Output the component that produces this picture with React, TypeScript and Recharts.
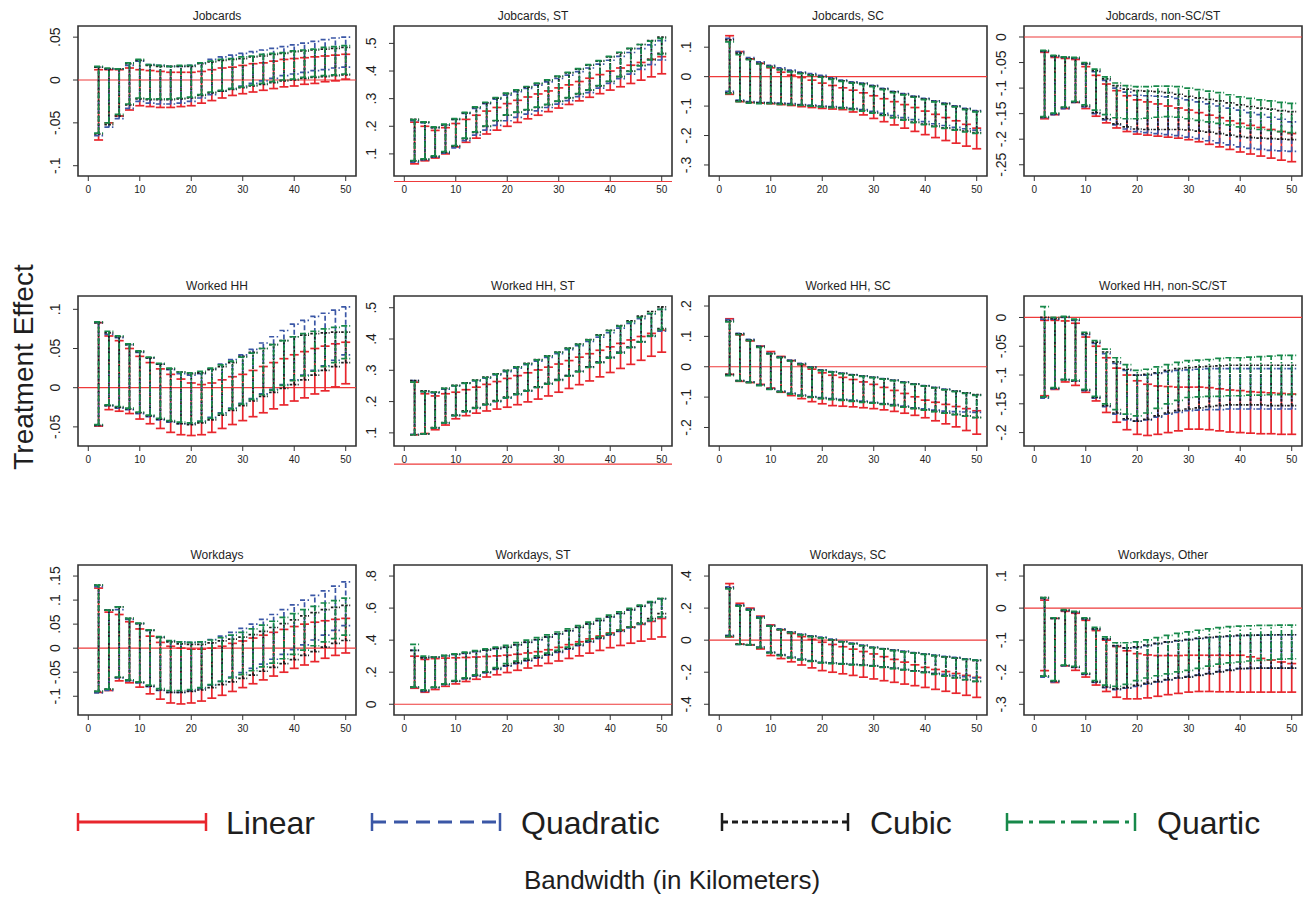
import React from 'react';
import { ComposedChart, Line, ErrorBar, XAxis, YAxis, ReferenceLine, ReferenceArea } from 'recharts';

// bandwidths (km) at which the RD estimates are shown
const bandwidths = [2, 4, 6, 8, 10, 12, 14, 16, 18, 20, 22, 24, 26, 28, 30, 32, 34, 36, 38, 40, 42, 44, 46, 48, 50];

// ---- Jobcards ----
const jcLinHi = [.012, .012, .012, .014, .012, .011, .010, .009, .009, .009, .010, .012, .014, .015, .017, .019, .020, .022, .024, .025, .026, .027, .028, .029, .030];
const jcLinLo = [-.070, -.050, -.042, -.035, -.030, -.031, -.032, -.032, -.031, -.030, -.027, -.024, -.021, -.018, -.016, -.014, -.012, -.010, -.008, -.007, -.005, -.004, -.002, -.001, .001];
const jcQuadHi = [.015, .013, .013, .017, .022, .018, .017, .016, .016, .017, .020, .024, .027, .029, .031, .033, .035, .037, .039, .041, .043, .045, .047, .049, .050];
const jcQuadLo = [-.065, -.055, -.045, -.033, -.025, -.027, -.028, -.028, -.027, -.025, -.021, -.017, -.013, -.010, -.007, -.004, -.001, .002, .005, .007, .009, .011, .012, .014, .015];
const jcCubHi = [.015, .013, .013, .019, .023, .017, .016, .016, .016, .016, .019, .021, .023, .024, .025, .027, .028, .030, .031, .033, .034, .035, .036, .037, .038];
const jcCubLo = [-.063, -.052, -.042, -.029, -.022, -.023, -.023, -.023, -.022, -.021, -.018, -.015, -.013, -.011, -.009, -.007, -.005, -.003, -.001, .000, .002, .003, .004, .005, .006];
const jcQuarHi = [.016, .014, .013, .020, .024, .018, .017, .016, .017, .017, .020, .022, .024, .025, .027, .028, .030, .031, .032, .034, .035, .036, .038, .039, .040];
const jcQuarLo = [-.062, -.050, -.040, -.028, -.021, -.022, -.022, -.022, -.021, -.020, -.017, -.014, -.012, -.010, -.008, -.006, -.004, -.002, .000, .001, .003, .004, .005, .006, .007];

// ---- Jobcards, ST ----
const jcStLinHi = [.215, .200, .185, .195, .210, .225, .240, .255, .268, .282, .294, .306, .317, .328, .339, .350, .362, .374, .387, .400, .411, .421, .431, .442, .452];
const jcStLinLo = [.064, .075, .085, .100, .125, .142, .157, .172, .186, .200, .214, .227, .240, .253, .266, .279, .292, .305, .318, .331, .343, .355, .367, .379, .390];
const jcStQuadHi = [.220, .212, .195, .205, .225, .247, .265, .282, .298, .313, .325, .337, .349, .361, .373, .385, .398, .411, .425, .439, .453, .467, .481, .495, .510];
const jcStQuadLo = [.070, .078, .088, .103, .122, .148, .168, .186, .203, .220, .232, .244, .256, .268, .280, .293, .307, .322, .338, .355, .372, .389, .406, .423, .440];
const jcStCubHi = [.225, .215, .195, .205, .225, .248, .268, .285, .302, .318, .330, .342, .354, .366, .380, .393, .407, .421, .436, .451, .466, .481, .496, .510, .523];
const jcStCubLo = [.075, .080, .090, .105, .128, .155, .178, .200, .220, .240, .250, .259, .268, .278, .290, .303, .317, .331, .346, .362, .380, .400, .421, .442, .464];
const jcStQuarHi = [.224, .216, .198, .208, .228, .250, .270, .287, .304, .320, .332, .344, .356, .368, .382, .395, .409, .423, .438, .453, .468, .482, .496, .508, .518];
const jcStQuarLo = [.076, .082, .093, .108, .130, .157, .180, .201, .221, .241, .251, .260, .269, .279, .291, .304, .318, .332, .347, .363, .380, .399, .419, .440, .460];

// ---- Jobcards, SC ----
const jcScLinHi = [.139, .085, .060, .045, .030, .015, .005, -.003, -.012, -.022, -.030, -.038, -.046, -.055, -.065, -.075, -.085, -.095, -.105, -.117, -.128, -.139, -.150, -.162, -.175];
const jcScLinLo = [-.060, -.085, -.088, -.090, -.092, -.095, -.098, -.102, -.105, -.108, -.110, -.112, -.120, -.130, -.142, -.153, -.164, -.175, -.186, -.197, -.207, -.217, -.226, -.236, -.245];
const jcScQuadHi = [.130, .085, .065, .050, .038, .030, .022, .015, .010, .004, -.004, -.012, -.018, -.022, -.030, -.040, -.050, -.058, -.066, -.074, -.082, -.090, -.099, -.108, -.115];
const jcScQuadLo = [-.050, -.080, -.085, -.087, -.088, -.090, -.092, -.095, -.097, -.100, -.102, -.104, -.108, -.112, -.118, -.125, -.132, -.139, -.146, -.153, -.160, -.166, -.172, -.177, -.182];
const jcScCubHi = [.125, .080, .060, .045, .035, .025, .018, .012, .006, .000, -.007, -.014, -.020, -.024, -.032, -.042, -.052, -.060, -.068, -.076, -.084, -.092, -.101, -.110, -.118];
const jcScCubLo = [-.055, -.082, -.087, -.089, -.090, -.092, -.094, -.097, -.099, -.102, -.104, -.106, -.110, -.115, -.122, -.130, -.138, -.146, -.154, -.161, -.168, -.174, -.180, -.185, -.190];
const jcScQuarHi = [.118, .075, .058, .043, .033, .023, .016, .010, .004, -.002, -.009, -.016, -.022, -.026, -.034, -.044, -.054, -.062, -.070, -.078, -.086, -.094, -.103, -.112, -.120];
const jcScQuarLo = [-.058, -.085, -.090, -.092, -.092, -.094, -.096, -.098, -.100, -.103, -.105, -.108, -.112, -.117, -.124, -.132, -.140, -.148, -.156, -.163, -.170, -.176, -.182, -.188, -.193];

// ---- Jobcards, non-SC/ST ----
const jcNonLinHi = [-.030, -.040, -.042, -.044, -.058, -.075, -.092, -.105, -.115, -.123, -.127, -.131, -.135, -.139, -.143, -.148, -.153, -.158, -.164, -.169, -.173, -.177, -.181, -.185, -.189];
const jcNonLinLo = [-.160, -.152, -.140, -.128, -.140, -.155, -.168, -.178, -.185, -.190, -.192, -.194, -.196, -.198, -.201, -.205, -.210, -.215, -.220, -.225, -.229, -.233, -.237, -.241, -.244];
const jcNonQuadHi = [-.028, -.038, -.040, -.042, -.053, -.068, -.085, -.100, -.108, -.114, -.115, -.116, -.117, -.120, -.123, -.127, -.131, -.135, -.139, -.143, -.148, -.152, -.157, -.161, -.166];
const jcNonQuadLo = [-.158, -.152, -.140, -.128, -.137, -.150, -.162, -.172, -.180, -.185, -.187, -.189, -.191, -.193, -.196, -.199, -.203, -.207, -.211, -.215, -.218, -.220, -.222, -.223, -.224];
const jcNonCubHi = [-.027, -.037, -.040, -.041, -.052, -.066, -.082, -.095, -.102, -.105, -.106, -.107, -.109, -.112, -.116, -.119, -.122, -.125, -.129, -.133, -.136, -.139, -.141, -.144, -.146];
const jcNonCubLo = [-.157, -.150, -.138, -.127, -.135, -.148, -.160, -.170, -.176, -.180, -.181, -.181, -.181, -.181, -.182, -.184, -.186, -.189, -.192, -.195, -.197, -.198, -.199, -.200, -.201];
const jcNonQuarHi = [-.026, -.036, -.039, -.040, -.050, -.063, -.078, -.090, -.095, -.097, -.097, -.096, -.096, -.097, -.100, -.103, -.106, -.109, -.113, -.117, -.120, -.123, -.125, -.128, -.130];
const jcNonQuarLo = [-.156, -.149, -.137, -.126, -.133, -.143, -.152, -.158, -.160, -.160, -.159, -.157, -.156, -.157, -.160, -.163, -.166, -.169, -.172, -.176, -.179, -.181, -.183, -.185, -.187];

// ---- Worked HH ----
const whLinHi = [.083, .066, .060, .050, .040, .032, .024, .017, .011, .006, .004, .006, .010, .014, .017, .022, .027, .032, .037, .042, .046, .050, .053, .056, .058];
const whLinLo = [-.049, -.028, -.030, -.033, -.040, -.046, -.052, -.057, -.060, -.061, -.060, -.057, -.052, -.047, -.042, -.037, -.032, -.027, -.022, -.017, -.013, -.008, -.004, .001, .005];
const whQuadHi = [.083, .068, .064, .055, .045, .038, .030, .023, .018, .016, .018, .024, .030, .036, .042, .049, .057, .065, .073, .081, .086, .091, .095, .099, .103];
const whQuadLo = [-.048, -.023, -.026, -.028, -.033, -.037, -.041, -.044, -.046, -.046, -.043, -.038, -.032, -.026, -.020, -.014, -.008, -.002, .004, .010, .016, .022, .028, .035, .042];
const whCubHi = [.083, .070, .065, .055, .046, .038, .030, .024, .020, .018, .019, .023, .027, .032, .040, .045, .050, .055, .060, .065, .067, .069, .070, .071, .071];
const whCubLo = [-.048, -.023, -.025, -.027, -.032, -.036, -.040, -.043, -.046, -.047, -.045, -.041, -.035, -.029, -.023, -.017, -.011, -.006, -.001, .004, .010, .016, .022, .027, .032];
const whQuarHi = [.084, .072, .066, .056, .047, .039, .031, .025, .020, .019, .021, .025, .029, .034, .039, .044, .050, .055, .060, .065, .069, .072, .075, .077, .079];
const whQuarLo = [-.047, -.022, -.024, -.026, -.031, -.035, -.039, -.042, -.044, -.045, -.043, -.039, -.033, -.027, -.021, -.015, -.009, -.003, .003, .009, .015, .021, .027, .032, .037];

// ---- Worked HH, ST ----
const whStLinHi = [.262, .225, .218, .225, .230, .238, .246, .255, .264, .274, .283, .292, .301, .310, .320, .331, .342, .353, .364, .375, .386, .397, .408, .418, .428];
const whStLinLo = [.094, .098, .110, .125, .145, .155, .163, .170, .176, .182, .190, .199, .208, .218, .230, .242, .254, .266, .279, .293, .306, .319, .332, .345, .358];
const whStQuadHi = [.267, .232, .228, .240, .250, .258, .266, .275, .285, .296, .307, .318, .329, .341, .353, .366, .379, .392, .406, .420, .435, .450, .465, .480, .495];
const whStQuadLo = [.095, .097, .115, .132, .155, .167, .178, .189, .200, .211, .222, .233, .245, .257, .270, .283, .297, .311, .326, .341, .357, .373, .390, .408, .425];
const whStCubHi = [.267, .234, .230, .242, .252, .260, .269, .278, .289, .300, .311, .322, .334, .346, .358, .371, .384, .398, .413, .428, .443, .458, .473, .488, .503];
const whStCubLo = [.094, .097, .117, .133, .157, .170, .181, .192, .203, .214, .225, .236, .247, .258, .270, .283, .297, .311, .326, .341, .357, .374, .392, .411, .433];
const whStQuarHi = [.262, .232, .230, .242, .251, .259, .268, .277, .288, .299, .310, .321, .333, .345, .357, .370, .383, .397, .412, .427, .441, .455, .469, .482, .495];
const whStQuarLo = [.094, .097, .116, .132, .155, .168, .179, .190, .201, .212, .223, .234, .245, .256, .268, .281, .295, .309, .324, .339, .355, .372, .390, .409, .430];

// ---- Worked HH, SC ----
const whScLinHi = [.158, .105, .085, .068, .050, .034, .020, .006, -.008, -.020, -.028, -.035, -.042, -.050, -.058, -.068, -.078, -.088, -.099, -.110, -.117, -.124, -.131, -.138, -.145];
const whScLinLo = [-.025, -.048, -.052, -.058, -.070, -.084, -.095, -.105, -.115, -.122, -.128, -.130, -.132, -.135, -.138, -.142, -.147, -.153, -.160, -.168, -.178, -.188, -.198, -.210, -.222];
const whScQuadHi = [.155, .110, .090, .068, .045, .033, .022, .011, .000, -.010, -.016, -.021, -.026, -.030, -.034, -.039, -.044, -.050, -.056, -.062, -.068, -.074, -.080, -.087, -.093];
const whScQuadLo = [-.027, -.046, -.050, -.060, -.072, -.080, -.087, -.093, -.098, -.102, -.105, -.107, -.110, -.113, -.117, -.121, -.125, -.130, -.135, -.139, -.143, -.146, -.148, -.149, -.150];
const whScCubHi = [.150, .108, .088, .066, .043, .031, .020, .009, -.002, -.012, -.017, -.022, -.027, -.031, -.035, -.040, -.045, -.051, -.057, -.063, -.069, -.075, -.080, -.086, -.092];
const whScCubLo = [-.025, -.046, -.051, -.061, -.074, -.082, -.089, -.095, -.100, -.104, -.107, -.110, -.113, -.116, -.119, -.123, -.127, -.132, -.137, -.142, -.147, -.152, -.157, -.162, -.167];
const whScQuarHi = [.148, .106, .086, .064, .042, .030, .019, .008, -.003, -.013, -.018, -.023, -.028, -.032, -.036, -.041, -.046, -.052, -.058, -.064, -.070, -.076, -.082, -.088, -.094];
const whScQuarLo = [-.029, -.047, -.052, -.062, -.075, -.083, -.090, -.096, -.101, -.105, -.108, -.111, -.114, -.117, -.120, -.124, -.128, -.133, -.138, -.143, -.148, -.153, -.158, -.163, -.168];

// ---- Worked HH, non-SC/ST ----
const whNonLinHi = [-.005, -.005, -.006, -.010, -.034, -.050, -.070, -.088, -.100, -.110, -.116, -.119, -.120, -.121, -.121, -.121, -.122, -.124, -.126, -.127, -.129, -.130, -.131, -.132, -.133];
const whNonLinLo = [-.136, -.125, -.112, -.118, -.130, -.145, -.165, -.182, -.195, -.203, -.205, -.203, -.200, -.197, -.194, -.194, -.195, -.197, -.199, -.200, -.201, -.202, -.202, -.203, -.203];
const whNonQuadHi = [-.003, -.003, .000, -.005, -.030, -.045, -.063, -.080, -.092, -.100, -.100, -.097, -.094, -.092, -.091, -.090, -.089, -.089, -.089, -.089, -.089, -.089, -.089, -.089, -.089];
const whNonQuadLo = [-.140, -.124, -.108, -.110, -.127, -.140, -.155, -.168, -.178, -.180, -.178, -.173, -.168, -.165, -.162, -.161, -.160, -.160, -.159, -.159, -.159, -.159, -.159, -.159, -.159];
const whNonCubHi = [.000, -.002, .001, -.004, -.028, -.043, -.060, -.077, -.090, -.100, -.099, -.096, -.092, -.089, -.087, -.086, -.085, -.084, -.083, -.083, -.083, -.083, -.083, -.083, -.083];
const whNonCubLo = [-.138, -.123, -.108, -.110, -.126, -.139, -.153, -.166, -.176, -.180, -.177, -.171, -.166, -.162, -.159, -.157, -.155, -.153, -.152, -.152, -.152, -.152, -.153, -.153, -.153];
const whNonQuarHi = [.019, .000, .002, -.003, -.026, -.040, -.055, -.070, -.082, -.092, -.090, -.086, -.082, -.078, -.075, -.074, -.073, -.071, -.070, -.070, -.069, -.068, -.067, -.066, -.066];
const whNonQuarLo = [-.138, -.122, -.108, -.109, -.125, -.137, -.150, -.160, -.168, -.171, -.166, -.158, -.150, -.144, -.139, -.138, -.137, -.137, -.136, -.136, -.135, -.135, -.134, -.134, -.134];

// ---- Workdays ----
const wdLinHi = [.125, .075, .070, .055, .040, .025, .012, .004, .000, -.002, -.002, .000, .004, .010, .015, .021, .027, .033, .039, .045, .050, .054, .057, .060, .062];
const wdLinLo = [-.092, -.088, -.068, -.072, -.081, -.095, -.106, -.114, -.116, -.114, -.110, -.104, -.098, -.090, -.082, -.074, -.066, -.058, -.050, -.042, -.035, -.028, -.021, -.015, -.010];
const wdQuadHi = [.128, .079, .080, .060, .051, .037, .023, .015, .013, .012, .013, .018, .025, .033, .041, .050, .060, .070, .080, .090, .100, .110, .119, .129, .138];
const wdQuadLo = [-.093, -.088, -.062, -.068, -.072, -.080, -.088, -.092, -.092, -.089, -.084, -.077, -.069, -.060, -.051, -.042, -.033, -.023, -.013, -.003, .007, .017, .027, .037, .047];
const wdCubHi = [.131, .079, .086, .062, .051, .037, .022, .013, .009, .008, .008, .011, .015, .019, .023, .028, .035, .043, .051, .059, .067, .074, .080, .085, .089];
const wdCubLo = [-.090, -.085, -.061, -.067, -.071, -.079, -.087, -.092, -.092, -.090, -.087, -.082, -.076, -.070, -.063, -.056, -.048, -.040, -.032, -.024, -.015, -.007, .002, .010, .016];
const wdQuarHi = [.131, .079, .086, .062, .052, .038, .024, .016, .013, .012, .013, .017, .022, .027, .033, .040, .048, .056, .064, .072, .080, .087, .094, .099, .104];
const wdQuarLo = [-.090, -.085, -.060, -.066, -.070, -.077, -.084, -.088, -.088, -.086, -.082, -.076, -.069, -.062, -.055, -.047, -.039, -.031, -.022, -.013, -.004, .005, .013, .020, .027];

// ---- Workdays, ST ----
const wdStLinHi = [.300, .280, .285, .288, .290, .292, .295, .298, .302, .306, .312, .320, .328, .340, .355, .372, .390, .408, .426, .445, .463, .481, .499, .517, .535];
const wdStLinLo = [.100, .075, .092, .112, .127, .142, .156, .170, .184, .198, .212, .226, .240, .255, .270, .286, .302, .319, .336, .353, .367, .381, .394, .407, .420];
const wdStQuadHi = [.336, .292, .293, .302, .310, .318, .328, .338, .347, .355, .370, .386, .402, .419, .438, .458, .479, .500, .522, .544, .566, .588, .611, .634, .658];
const wdStQuadLo = [.105, .080, .103, .122, .142, .158, .176, .196, .218, .238, .254, .271, .288, .306, .324, .344, .366, .388, .410, .432, .454, .476, .498, .520, .542];
const wdStCubHi = [.336, .290, .295, .303, .312, .320, .330, .340, .349, .357, .372, .388, .404, .421, .440, .460, .481, .502, .524, .546, .568, .590, .613, .636, .660];
const wdStCubLo = [.107, .085, .105, .125, .145, .162, .180, .200, .222, .242, .258, .275, .292, .310, .328, .348, .370, .392, .414, .436, .458, .481, .506, .535, .566];
const wdStQuarHi = [.374, .300, .295, .305, .315, .325, .335, .345, .356, .368, .384, .400, .416, .433, .451, .471, .491, .512, .534, .556, .577, .598, .619, .640, .660];
const wdStQuarLo = [.107, .090, .107, .127, .148, .165, .183, .203, .228, .253, .269, .285, .302, .319, .336, .356, .377, .398, .420, .441, .462, .482, .503, .524, .545];

// ---- Workdays, SC ----
const wdScLinHi = [.353, .230, .200, .150, .095, .065, .042, .022, .005, -.013, -.027, -.041, -.056, -.071, -.086, -.103, -.120, -.137, -.154, -.170, -.183, -.196, -.208, -.220, -.232];
const wdScLinLo = [.020, -.025, -.030, -.055, -.096, -.115, -.135, -.155, -.173, -.190, -.200, -.210, -.220, -.231, -.242, -.253, -.263, -.274, -.284, -.295, -.307, -.319, -.331, -.344, -.357];
const wdScQuadHi = [.332, .220, .195, .145, .092, .070, .052, .038, .027, .019, .006, -.007, -.019, -.031, -.044, -.052, -.061, -.069, -.078, -.086, -.093, -.101, -.108, -.116, -.123];
const wdScQuadLo = [.030, -.027, -.030, -.044, -.075, -.090, -.105, -.118, -.128, -.138, -.142, -.147, -.151, -.155, -.159, -.167, -.175, -.183, -.191, -.200, -.207, -.214, -.221, -.228, -.235];
const wdScCubHi = [.325, .215, .190, .140, .088, .066, .048, .034, .023, .015, .002, -.010, -.022, -.034, -.046, -.055, -.064, -.072, -.080, -.088, -.096, -.104, -.112, -.120, -.128];
const wdScCubLo = [.025, -.025, -.028, -.046, -.078, -.094, -.109, -.121, -.131, -.140, -.144, -.148, -.152, -.156, -.160, -.168, -.176, -.184, -.192, -.200, -.211, -.222, -.234, -.246, -.257];
const wdScQuarHi = [.320, .212, .188, .138, .087, .065, .047, .033, .022, .014, .001, -.011, -.023, -.035, -.047, -.056, -.065, -.073, -.081, -.089, -.097, -.105, -.113, -.120, -.125];
const wdScQuarLo = [.022, -.027, -.030, -.047, -.080, -.096, -.111, -.123, -.133, -.142, -.146, -.150, -.154, -.158, -.162, -.170, -.178, -.186, -.194, -.202, -.213, -.224, -.236, -.247, -.257];

// ---- Workdays, Other ----
const wdOthLinHi = [.025, -.032, -.010, -.016, -.038, -.070, -.100, -.120, -.133, -.142, -.146, -.148, -.148, -.148, -.147, -.147, -.147, -.147, -.147, -.147, -.152, -.157, -.162, -.168, -.173];
const wdOthLinLo = [-.195, -.232, -.180, -.194, -.215, -.240, -.260, -.278, -.283, -.283, -.280, -.275, -.270, -.266, -.262, -.260, -.260, -.261, -.261, -.262, -.262, -.262, -.262, -.262, -.262];
const wdOthQuadHi = [.030, -.032, -.008, -.013, -.034, -.066, -.097, -.118, -.125, -.123, -.117, -.111, -.106, -.102, -.098, -.095, -.092, -.090, -.088, -.086, -.085, -.084, -.084, -.083, -.083];
const wdOthQuadLo = [-.215, -.230, -.180, -.185, -.207, -.232, -.248, -.254, -.250, -.244, -.237, -.230, -.224, -.218, -.214, -.209, -.204, -.198, -.193, -.189, -.188, -.187, -.187, -.187, -.187];
const wdOthCubHi = [.033, -.032, -.007, -.012, -.033, -.065, -.096, -.117, -.124, -.121, -.115, -.110, -.105, -.101, -.098, -.094, -.091, -.089, -.087, -.085, -.084, -.084, -.083, -.083, -.083];
const wdOthCubLo = [-.212, -.228, -.179, -.184, -.205, -.230, -.246, -.252, -.248, -.241, -.235, -.229, -.223, -.218, -.215, -.210, -.205, -.199, -.194, -.189, -.188, -.187, -.187, -.187, -.187];
const wdOthQuarHi = [.033, -.030, -.005, -.010, -.030, -.060, -.090, -.108, -.108, -.105, -.099, -.092, -.085, -.079, -.074, -.069, -.065, -.061, -.058, -.056, -.055, -.054, -.054, -.053, -.053];
const wdOthQuarLo = [-.212, -.226, -.178, -.182, -.203, -.226, -.240, -.244, -.238, -.226, -.218, -.211, -.205, -.199, -.194, -.188, -.181, -.175, -.171, -.168, -.165, -.163, -.161, -.159, -.158];

const xTicks = [0, 10, 20, 30, 40, 50];

const SERIES = [
  { key: 'lin', name: 'Linear', color: '#e8262d', dash: undefined as string | undefined },
  { key: 'quad', name: 'Quadratic', color: '#3b57a6', dash: '5 2.5' },
  { key: 'cub', name: 'Cubic', color: '#1c1c1c', dash: '2.5 1.5' },
  { key: 'quar', name: 'Quartic', color: '#17894a', dash: '6 2 1.5 2' },
];

const panels = [
  { title: 'Jobcards', domain: [-0.112, 0.063], ticks: [-0.1, -0.05, 0, 0.05],
    lo: [jcLinLo, jcQuadLo, jcCubLo, jcQuarLo], hi: [jcLinHi, jcQuadHi, jcCubHi, jcQuarHi] },
  { title: 'Jobcards, ST', domain: [0.02, 0.563], ticks: [0.1, 0.2, 0.3, 0.4, 0.5],
    lo: [jcStLinLo, jcStQuadLo, jcStCubLo, jcStQuarLo], hi: [jcStLinHi, jcStQuadHi, jcStCubHi, jcStQuarHi] },
  { title: 'Jobcards, SC', domain: [-0.3375, 0.172], ticks: [-0.3, -0.2, -0.1, 0, 0.1],
    lo: [jcScLinLo, jcScQuadLo, jcScCubLo, jcScQuarLo], hi: [jcScLinHi, jcScQuadHi, jcScCubHi, jcScQuarHi] },
  { title: 'Jobcards, non-SC/ST', domain: [-0.272, 0.0215], ticks: [-0.25, -0.2, -0.15, -0.1, -0.05, 0],
    lo: [jcNonLinLo, jcNonQuadLo, jcNonCubLo, jcNonQuarLo], hi: [jcNonLinHi, jcNonQuadHi, jcNonCubHi, jcNonQuarHi] },
  { title: 'Worked HH', domain: [-0.0744, 0.117], ticks: [-0.05, 0, 0.05, 0.1],
    lo: [whLinLo, whQuadLo, whCubLo, whQuarLo], hi: [whLinHi, whQuadHi, whCubHi, whQuarHi] },
  { title: 'Worked HH, ST', domain: [0.058, 0.5375], ticks: [0.1, 0.2, 0.3, 0.4, 0.5],
    lo: [whStLinLo, whStQuadLo, whStCubLo, whStQuarLo], hi: [whStLinHi, whStQuadHi, whStCubHi, whStQuarHi] },
  { title: 'Worked HH, SC', domain: [-0.261, 0.233], ticks: [-0.2, -0.1, 0, 0.1, 0.2],
    lo: [whScLinLo, whScQuadLo, whScCubLo, whScQuarLo], hi: [whScLinHi, whScQuadHi, whScCubHi, whScQuarHi] },
  { title: 'Worked HH, non-SC/ST', domain: [-0.2233, 0.0373], ticks: [-0.2, -0.15, -0.1, -0.05, 0],
    lo: [whNonLinLo, whNonQuadLo, whNonCubLo, whNonQuarLo], hi: [whNonLinHi, whNonQuadHi, whNonCubHi, whNonQuarHi] },
  { title: 'Workdays', domain: [-0.139, 0.173], ticks: [-0.1, -0.05, 0, 0.05, 0.1, 0.15],
    lo: [wdLinLo, wdQuadLo, wdCubLo, wdQuarLo], hi: [wdLinHi, wdQuadHi, wdCubHi, wdQuarHi] },
  { title: 'Workdays, ST', domain: [-0.067, 0.869], ticks: [0, 0.2, 0.4, 0.6, 0.8],
    lo: [wdStLinLo, wdStQuadLo, wdStCubLo, wdStQuarLo], hi: [wdStLinHi, wdStQuadHi, wdStCubHi, wdStQuarHi] },
  { title: 'Workdays, SC', domain: [-0.467, 0.469], ticks: [-0.4, -0.2, 0, 0.2, 0.4],
    lo: [wdScLinLo, wdScQuadLo, wdScCubLo, wdScQuarLo], hi: [wdScLinHi, wdScQuadHi, wdScCubHi, wdScQuarHi] },
  { title: 'Workdays, Other', domain: [-0.3334, 0.1345], ticks: [-0.3, -0.2, -0.1, 0, 0.1],
    lo: [wdOthLinLo, wdOthQuadLo, wdOthCubLo, wdOthQuarLo], hi: [wdOthLinHi, wdOthQuadHi, wdOthCubHi, wdOthQuarHi] },
];

// layout of the plot frames (px)
const COLS = [78, 394, 709, 1024];
const ROWS = [26, 296, 565];
const FRAME_W = 278;
const FRAME_H = 150;
const AXIS_W = 60;
const AXIS_H = 30;
const PAD_T = 10;
const PAD_R = 12;
const FONT = '"Liberation Sans", Arial, Helvetica, sans-serif';
const INK = '#1e1e1e';

// Stata-style labels: .05, -.1, 0
const fmt = (v: number) => String(+v.toFixed(3)).replace(/^(-?)0\./, '$1.');

const RotTick = (props: any) => {
  const { x, y, payload } = props;
  return (
    <text x={x} y={y} transform={`rotate(-90 ${x} ${y})`} textAnchor="middle" fontSize={14} fill={INK}>
      {fmt(payload.value)}
    </text>
  );
};

function buildRows(p: any) {
  return bandwidths.map((bw, i) => {
    const row: any = { bw };
    SERIES.forEach((s, k) => {
      const lo = p.lo[k][i];
      const hi = p.hi[k][i];
      const mid = (lo + hi) / 2;
      row[s.key] = mid;
      row[s.key + 'Err'] = [mid - lo, hi - mid];
    });
    return row;
  });
}

const Panel = ({ p, col, row }: { p: any; col: number; row: number }) => {
  const data = buildRows(p);
  return (
    <div style={{ position: 'absolute', left: COLS[col] - AXIS_W, top: ROWS[row] - PAD_T }}>
      <ComposedChart
        width={AXIS_W + FRAME_W + PAD_R}
        height={PAD_T + FRAME_H + AXIS_H}
        data={data}
        margin={{ top: PAD_T, right: PAD_R, bottom: 0, left: 0 }}
      >
        <XAxis
          dataKey="bw" type="number" domain={[-2, 52]} ticks={xTicks} allowDataOverflow
          height={AXIS_H} tickSize={5} tickMargin={5} axisLine={false}
          tickLine={{ stroke: '#333' }} tick={{ fontSize: 10, fill: INK }}
        />
        <YAxis
          type="number" domain={p.domain} ticks={p.ticks} allowDataOverflow
          width={AXIS_W} tickSize={5} tickMargin={13} axisLine={false}
          tickLine={{ stroke: '#333' }} tick={<RotTick />}
        />
        <ReferenceLine y={0} stroke="#ee3a3a" strokeWidth={1.2} ifOverflow="visible" />
        {SERIES.map((s) => (
          <Line
            key={s.key} dataKey={s.key} stroke="none" dot={false} activeDot={false}
            isAnimationActive={false} legendType="none"
          >
            <ErrorBar
              dataKey={s.key + 'Err'} direction="y" width={4.5}
              stroke={s.color} strokeWidth={1.7} strokeDasharray={s.dash}
              isAnimationActive={false}
            />
          </Line>
        ))}
        <ReferenceArea
          x1={-2} x2={52} y1={p.domain[0]} y2={p.domain[1]}
          fill="none" stroke="#333" strokeWidth={1.6} ifOverflow="visible"
        />
      </ComposedChart>
    </div>
  );
};

const legendItems = [
  { x1: 78, x2: 206, tx: 226, dash: undefined as string | undefined },
  { x1: 372, x2: 500, tx: 521, dash: '14 8' },
  { x1: 722, x2: 848, tx: 870, dash: '6 4' },
  { x1: 1007, x2: 1135, tx: 1157, dash: '16 6 4 6' },
];

export default function App() {
  return (
    <div style={{ position: 'absolute', left: 0, top: 0, width: 1310, height: 900, background: '#fff', fontFamily: FONT }}>
      {panels.map((p, i) => (
        <Panel key={p.title} p={p} col={i % 4} row={Math.floor(i / 4)} />
      ))}
      <svg width={1310} height={900} style={{ position: 'absolute', left: 0, top: 0, pointerEvents: 'none' }}>
        {panels.map((p, i) => (
          <text
            key={p.title} x={COLS[i % 4] + FRAME_W / 2} y={ROWS[Math.floor(i / 4)] - 6}
            textAnchor="middle" fontSize={12} fill={INK}
          >
            {p.title}
          </text>
        ))}
        <text x={33} y={367} transform="rotate(-90 33 367)" textAnchor="middle" fontSize={28} fill={INK}>
          Treatment Effect
        </text>
        {legendItems.map((l, k) => (
          <g key={k} stroke={SERIES[k].color} strokeWidth={3}>
            <line x1={l.x1} y1={822} x2={l.x2} y2={822} strokeDasharray={l.dash} />
            <line x1={l.x1} y1={813} x2={l.x1} y2={831} strokeWidth={2.5} />
            <line x1={l.x2} y1={813} x2={l.x2} y2={831} strokeWidth={2.5} />
            <text x={l.tx} y={834} fontSize={32} fill={INK} stroke="none">{SERIES[k].name}</text>
          </g>
        ))}
        <text x={672} y={889} textAnchor="middle" fontSize={26} fill={INK}>
          Bandwidth (in Kilometers)
        </text>
      </svg>
    </div>
  );
}
